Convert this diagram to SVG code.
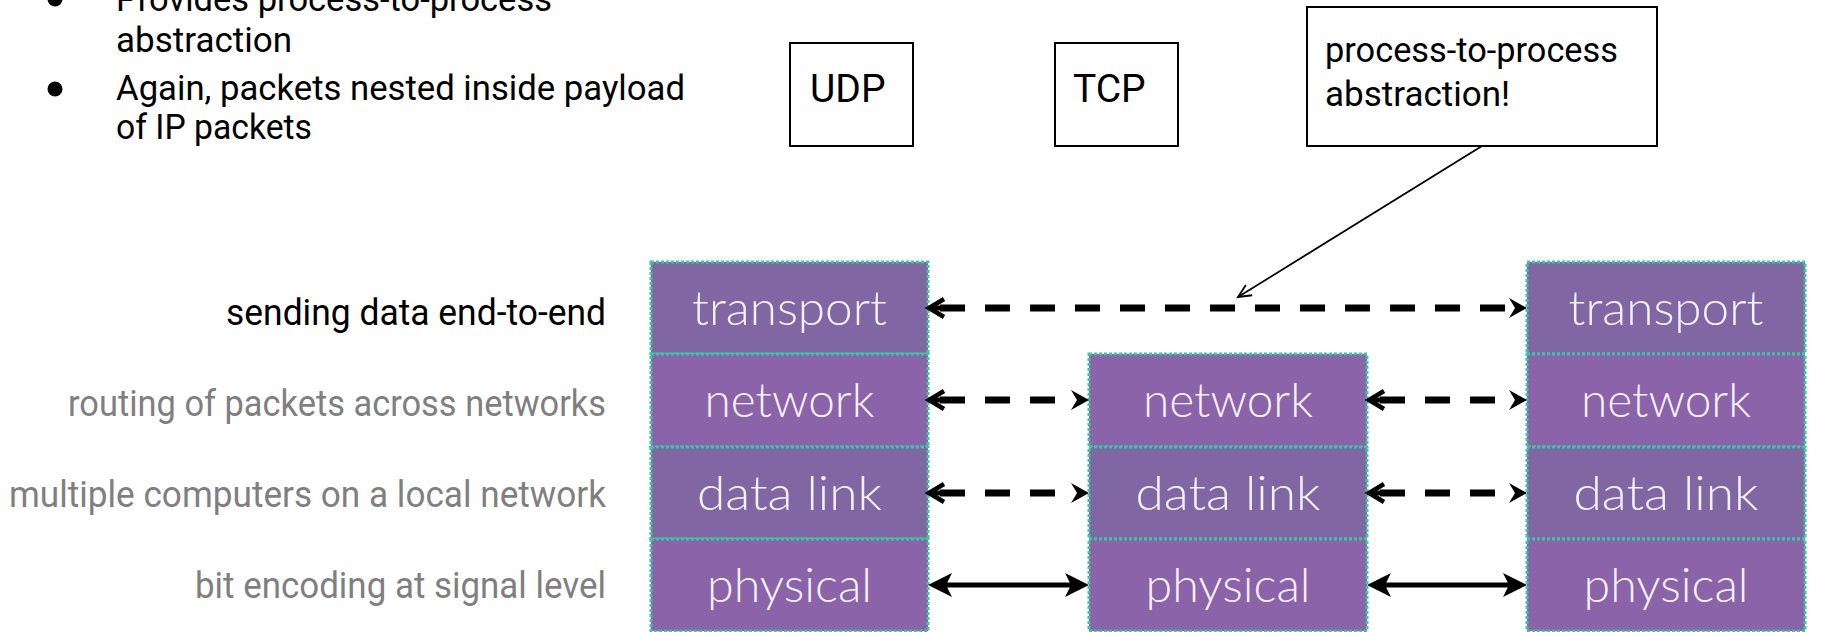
<svg xmlns="http://www.w3.org/2000/svg" xmlns:xlink="http://www.w3.org/1999/xlink" width="1839" height="632" viewBox="0 0 1839 632">
<style>
  .txt { font-family: Roboto, "Noto Sans", "Liberation Sans", sans-serif; fill: #000; }
  .bul { font-size: 35px; }
  .lbl { font-size: 37px; text-anchor: end; fill: #7f7f7f; }
  .lbl.dark { fill: #000; }
  .box { fill: #fff; stroke: #000; stroke-width: 2; }
  .row { stroke: #35c8a5; stroke-width: 3; stroke-dasharray: 3 2; }
  .rt { fill: #8067a3; }
  .rn { fill: #8a63a8; }
  .lt { font-family: Lato, "Noto Sans", sans-serif; font-weight: 300; font-size: 47px; fill: #f5f1f8; text-anchor: middle; }
  .dash { fill: none; stroke: #000; stroke-width: 7; stroke-dasharray: 25 20; }
  .solid { fill: none; stroke: #000; stroke-width: 5; }
  .thin { fill: none; stroke: #000; stroke-width: 1.8; }
</style>
<defs>
  <g id="hl"><path d="M16,-9 L1,0 L16,9" fill="none" stroke="#000" stroke-width="4.5"/><path d="M2,0 H13" stroke="#000" stroke-width="5"/></g>
  <path id="hr" d="M0,0 L-18,-10 L-12,0 L-18,10 Z" fill="#000"/>
  <path id="pl" d="M0,0 L24,-12 L18,0 L24,12 Z" fill="#000"/>
  <path id="pr" d="M0,0 L-24,-12 L-18,0 L-24,12 Z" fill="#000"/>
  <marker id="open" markerUnits="userSpaceOnUse" markerWidth="30" markerHeight="30" orient="auto" overflow="visible" refX="0" refY="0">
    <path d="M-13,-6 L0,0 L-13,6" fill="none" stroke="#000" stroke-width="1.8"/>
  </marker>
</defs>
<rect width="1839" height="632" fill="#fff"/>

<g id="bullets" class="txt bul">
  <circle cx="55" cy="-1" r="7.5" fill="#000"/>
  <text x="116" y="11" textLength="436" lengthAdjust="spacingAndGlyphs">Provides process-to-process</text>
  <text x="116" y="52" textLength="176" lengthAdjust="spacingAndGlyphs">abstraction</text>
  <circle cx="55" cy="89" r="7.5" fill="#000"/>
  <text x="116" y="100" textLength="569" lengthAdjust="spacingAndGlyphs">Again, packets nested inside payload</text>
  <text x="116" y="139" textLength="196" lengthAdjust="spacingAndGlyphs">of IP packets</text>
</g>

<g id="udp">
  <rect class="box" x="790" y="43" width="123" height="103"/>
  <text class="txt" x="810" y="102" font-size="39">UDP</text>
</g>
<g id="tcp">
  <rect class="box" x="1055" y="43" width="123" height="103"/>
  <text class="txt" x="1073" y="102" font-size="39">TCP</text>
</g>
<g id="callout">
  <rect class="box" x="1307" y="7" width="350" height="139"/>
  <text class="txt bul" x="1325" y="62" textLength="293" lengthAdjust="spacingAndGlyphs">process-to-process</text>
  <text class="txt bul" x="1325" y="106" textLength="185" lengthAdjust="spacingAndGlyphs">abstraction!</text>
</g>

<g id="labels" class="txt">
  <text class="lbl dark" x="606" y="325" textLength="380" lengthAdjust="spacingAndGlyphs">sending data end-to-end</text>
  <text class="lbl" x="606" y="416" textLength="538" lengthAdjust="spacingAndGlyphs">routing of packets across networks</text>
  <text class="lbl" x="606" y="507" textLength="597" lengthAdjust="spacingAndGlyphs">multiple computers on a local network</text>
  <text class="lbl" x="606" y="598" textLength="411" lengthAdjust="spacingAndGlyphs">bit encoding at signal level</text>
</g>

<g id="stack-left">
  <rect class="row rt" x="651" y="262" width="277" height="92"/>
  <rect class="row rn" x="651" y="354" width="277" height="93"/>
  <rect class="row rt" x="651" y="447" width="277" height="92"/>
  <rect class="row rn" x="651" y="539" width="277" height="92"/>
  <text class="lt" x="789.5" y="325" textLength="195" lengthAdjust="spacingAndGlyphs">transport</text>
  <text class="lt" x="789.5" y="417" textLength="170" lengthAdjust="spacingAndGlyphs">network</text>
  <text class="lt" x="789.5" y="510" textLength="185" lengthAdjust="spacingAndGlyphs">data link</text>
  <text class="lt" x="789.5" y="602" textLength="165" lengthAdjust="spacingAndGlyphs">physical</text>
</g>

<g id="stack-middle">
  <rect class="row rn" x="1089" y="354" width="278" height="93"/>
  <rect class="row rt" x="1089" y="447" width="278" height="92"/>
  <rect class="row rn" x="1089" y="539" width="278" height="92"/>
  <text class="lt" x="1228" y="417" textLength="170" lengthAdjust="spacingAndGlyphs">network</text>
  <text class="lt" x="1228" y="510" textLength="185" lengthAdjust="spacingAndGlyphs">data link</text>
  <text class="lt" x="1228" y="602" textLength="165" lengthAdjust="spacingAndGlyphs">physical</text>
</g>

<g id="stack-right">
  <rect class="row rt" x="1527" y="262" width="278" height="92"/>
  <rect class="row rn" x="1527" y="354" width="278" height="93"/>
  <rect class="row rt" x="1527" y="447" width="278" height="92"/>
  <rect class="row rn" x="1527" y="539" width="278" height="92"/>
  <text class="lt" x="1666" y="325" textLength="195" lengthAdjust="spacingAndGlyphs">transport</text>
  <text class="lt" x="1666" y="417" textLength="170" lengthAdjust="spacingAndGlyphs">network</text>
  <text class="lt" x="1666" y="510" textLength="185" lengthAdjust="spacingAndGlyphs">data link</text>
  <text class="lt" x="1666" y="602" textLength="165" lengthAdjust="spacingAndGlyphs">physical</text>
</g>

<g id="connectors">
  <!-- transport end-to-end -->
  <path class="dash" d="M940,308 H1505"/>
  <use xlink:href="#hl" x="928" y="308"/>
  <use xlink:href="#hr" x="1527" y="308"/>
  <!-- network -->
  <path class="dash" d="M940,400 H1055"/>
  <use xlink:href="#hl" x="928" y="400"/>
  <use xlink:href="#hr" x="1089" y="400"/>
  <path class="dash" d="M1380,400 H1495"/>
  <use xlink:href="#hl" x="1368" y="400"/>
  <use xlink:href="#hr" x="1527" y="400"/>
  <!-- data link -->
  <path class="dash" d="M940,493 H1055"/>
  <use xlink:href="#hl" x="928" y="493"/>
  <use xlink:href="#hr" x="1089" y="493"/>
  <path class="dash" d="M1380,493 H1495"/>
  <use xlink:href="#hl" x="1368" y="493"/>
  <use xlink:href="#hr" x="1527" y="493"/>
  <!-- physical -->
  <path class="solid" d="M940,585 H1075"/>
  <use xlink:href="#pl" x="928" y="585"/>
  <use xlink:href="#pr" x="1089" y="585"/>
  <path class="solid" d="M1379,585 H1514"/>
  <use xlink:href="#pl" x="1367" y="585"/>
  <use xlink:href="#pr" x="1527" y="585"/>
  <!-- callout pointer -->
  <path class="thin" d="M1482,146 L1238,297" marker-end="url(#open)"/>
</g>
</svg>
